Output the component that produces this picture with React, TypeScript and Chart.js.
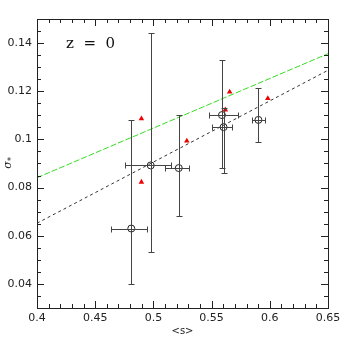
import React, { useEffect, useRef } from "react";
import { Chart, registerables } from "chart.js";

Chart.register(...registerables);

// Data
const circX = [0.481, 0.4977, 0.5218, 0.5589, 0.5603, 0.5902];
const circY = [0.063, 0.0892, 0.0881, 0.1101, 0.1051, 0.1081];
const circXLo = [0.4632, 0.4756, 0.5098, 0.5474, 0.5506, 0.5848];
const circXHi = [0.4948, 0.5155, 0.5305, 0.5724, 0.5675, 0.5957];
const circYLo = [0.04, 0.0531, 0.0681, 0.0883, 0.0862, 0.099];
const circYHi = [0.108, 0.144, 0.1102, 0.1331, 0.113, 0.1212];

const triX = [0.4897, 0.4897, 0.5287, 0.5618, 0.5655, 0.5983];
const triY = [0.1086, 0.0823, 0.0994, 0.1123, 0.1197, 0.117];

const lineX = [0.4, 0.65];
const greenY = [0.0841, 0.1356];
const blackY = [0.0652, 0.1287];

const xTicks = [0.4, 0.45, 0.5, 0.55, 0.6, 0.65];
const xTickLabels = ["0.4", "0.45", "0.5", "0.55", "0.6", "0.65"];
const yTicks = [0.04, 0.06, 0.08, 0.1, 0.12, 0.14];
const yTickLabels = ["0.04", "0.06", "0.08", "0.1", "0.12", "0.14"];
const xMinorStep = 0.01;
const yMinorStep = 0.005;

const framePlugin = {
  id: "frameAndBars",
  afterDatasetsDraw(chart: any) {
    const ctx = chart.ctx;
    const xs = chart.scales.x;
    const ys = chart.scales.y;
    const { left, right, top, bottom } = chart.chartArea;
    ctx.save();
    // error bars
    ctx.strokeStyle = "#444";
    ctx.lineWidth = 1;
    const cap = 3;
    for (let i = 0; i < circX.length; i++) {
      const px = Math.round(xs.getPixelForValue(circX[i])) + 0.5;
      const py = Math.round(ys.getPixelForValue(circY[i])) + 0.5;
      const x0 = Math.round(xs.getPixelForValue(circXLo[i])) + 0.5;
      const x1 = Math.round(xs.getPixelForValue(circXHi[i])) + 0.5;
      const y0 = Math.round(ys.getPixelForValue(circYLo[i])) + 0.5;
      const y1 = Math.round(ys.getPixelForValue(circYHi[i])) + 0.5;
      ctx.beginPath();
      ctx.moveTo(px, y0);
      ctx.lineTo(px, y1);
      ctx.moveTo(px - cap, y0);
      ctx.lineTo(px + cap, y0);
      ctx.moveTo(px - cap, y1);
      ctx.lineTo(px + cap, y1);
      ctx.moveTo(x0, py);
      ctx.lineTo(x1, py);
      ctx.moveTo(x0, py - cap);
      ctx.lineTo(x0, py + cap);
      ctx.moveTo(x1, py - cap);
      ctx.lineTo(x1, py + cap);
      ctx.stroke();
    }
    // frame
    ctx.strokeStyle = "#222";
    ctx.lineWidth = 1;
    ctx.strokeRect(Math.round(left) + 0.5, Math.round(top) + 0.5, Math.round(right - left), Math.round(bottom - top));
    // ticks
    ctx.beginPath();
    const major = 7;
    const minor = 4;
    const eps = 1e-9;
    for (let v = xs.min; v <= xs.max + eps; v += xMinorStep) {
      const isMajor = xTicks.some((t) => Math.abs(t - v) < 1e-6);
      const len = isMajor ? major : minor;
      const px = Math.round(xs.getPixelForValue(v)) + 0.5;
      ctx.moveTo(px, bottom);
      ctx.lineTo(px, bottom - len);
      ctx.moveTo(px, top);
      ctx.lineTo(px, top + len);
    }
    for (let v = ys.min; v <= ys.max + eps; v += yMinorStep) {
      const isMajor = yTicks.some((t) => Math.abs(t - v) < 1e-6);
      const len = isMajor ? major : minor;
      const py = Math.round(ys.getPixelForValue(v)) + 0.5;
      ctx.moveTo(left, py);
      ctx.lineTo(left + len, py);
      ctx.moveTo(right, py);
      ctx.lineTo(right - len, py);
    }
    ctx.stroke();
    // annotation
    ctx.fillStyle = "#111";
    ctx.font = "15px 'DejaVu Serif'";
    ctx.textBaseline = "middle";
    ctx.textAlign = "left";
    ctx.fillText("z  =  0", 66, 44);
    // y title with subscript
    ctx.translate(8, 165);
    ctx.rotate(-Math.PI / 2);
    ctx.font = "italic 11px 'DejaVu Serif'";
    ctx.textAlign = "center";
    ctx.fillText("σ", 0, 0);
    ctx.font = "8px 'DejaVu Sans'";
    ctx.fillText("*", 6, 4);
    ctx.restore();
  },
};

export default function App() {
  const ref = useRef<HTMLCanvasElement>(null);
  useEffect(() => {
    if (!ref.current) return;
    const chart = new Chart(ref.current, {
      type: "scatter",
      data: {
        datasets: [
          {
            label: "green",
            data: lineX.map((x, i) => ({ x, y: greenY[i] })),
            showLine: true,
            borderColor: "#33dd22",
            borderWidth: 1,
            borderDash: [6, 2],
            pointRadius: 0,
          },
          {
            label: "black",
            data: lineX.map((x, i) => ({ x, y: blackY[i] })),
            showLine: true,
            borderColor: "#333",
            borderWidth: 1,
            borderDash: [3, 3],
            pointRadius: 0,
          },
          {
            label: "tri",
            data: triX.map((x, i) => ({ x, y: triY[i] })),
            pointStyle: "triangle",
            pointRadius: 3.2,
            backgroundColor: "#ee0000",
            borderColor: "#ee0000",
            borderWidth: 0,
          },
          {
            label: "circ",
            data: circX.map((x, i) => ({ x, y: circY[i] })),
            pointStyle: "circle",
            pointRadius: 3.5,
            backgroundColor: "rgba(0,0,0,0)",
            borderColor: "#222",
            borderWidth: 1,
          },
        ],
      },
      options: {
        animation: false,
        responsive: false,
        maintainAspectRatio: false,
        layout: { padding: { top: 19, right: 18, left: 0, bottom: 0 } },
        plugins: { legend: { display: false }, tooltip: { enabled: false } },
        scales: {
          x: {
            type: "linear",
            min: 0.4,
            max: 0.65,
            afterFit: (s: any) => {
              s.height = 38;
            },
            afterBuildTicks: (s: any) => {
              s.ticks = xTicks.map((v) => ({ value: v }));
            },
            grid: { display: false, drawTicks: false },
            border: { display: false },
            ticks: {
              padding: 4,
              autoSkip: false,
              maxRotation: 0,
              color: "#222",
              font: { family: "'DejaVu Sans'", size: 11 },
              callback: (v: any) => {
                const i = xTicks.findIndex((t) => Math.abs(t - v) < 1e-6);
                return i >= 0 ? xTickLabels[i] : "";
              },
            },
            title: {
              display: true,
              text: "<s>",
              color: "#222",
              font: { family: "'DejaVu Sans'", size: 10 },
              padding: { top: 0, bottom: 9 },
            },
          },
          y: {
            type: "linear",
            min: 0.03,
            max: 0.15,
            afterFit: (s: any) => {
              s.width = 37;
            },
            afterBuildTicks: (s: any) => {
              s.ticks = yTicks.map((v) => ({ value: v }));
            },
            grid: { display: false, drawTicks: false },
            border: { display: false },
            ticks: {
              padding: 5,
              autoSkip: false,
              color: "#222",
              font: { family: "'DejaVu Sans'", size: 11 },
              callback: (v: any) => {
                const i = yTicks.findIndex((t) => Math.abs(t - v) < 1e-6);
                return i >= 0 ? yTickLabels[i] : "";
              },
            },
          },
        },
      },
      plugins: [framePlugin],
    });
    return () => chart.destroy();
  }, []);
  return (
    <div style={{ position: "absolute", left: 0, top: 0, width: 346, height: 346, background: "#fff" }}>
      <canvas ref={ref} width={346} height={346} style={{ width: 346, height: 346 }} />
    </div>
  );
}
